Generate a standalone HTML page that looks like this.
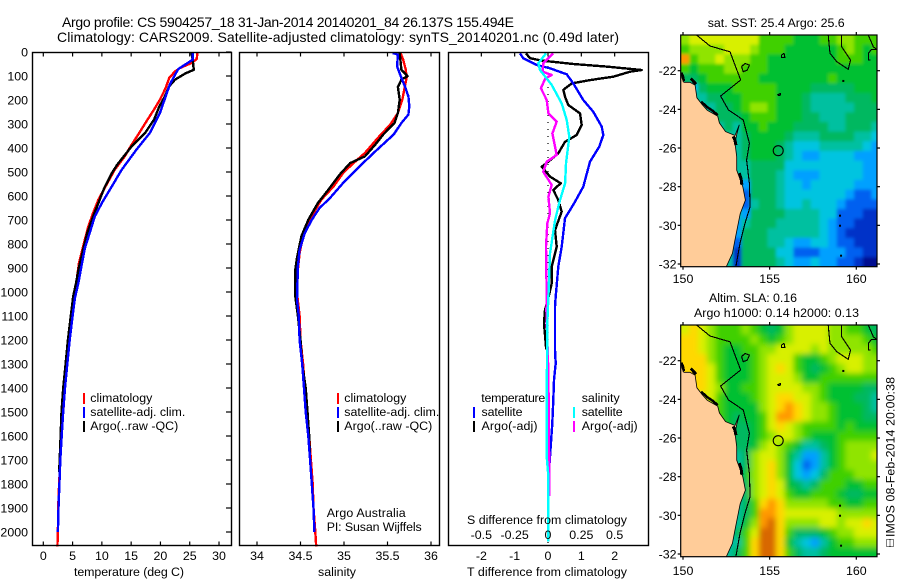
<!DOCTYPE html>
<html lang="en">
<head>
<meta charset="utf-8">
<title>Argo profile chart</title>
<style>
html,body{margin:0;padding:0;background:#fff;}
svg{display:block;font-family:"Liberation Sans",sans-serif;font-size:12.4px;fill:#000;}
text{fill:#000;}
.t14{font-size:14px;}
</style>
</head>
<body>
<svg id="chart" xmlns="http://www.w3.org/2000/svg" width="900" height="580" viewBox="0 0 900 580">
<defs>
<clipPath id="clip-map1"><rect x="680.7" y="35" width="196.3" height="231.7"/></clipPath>
<clipPath id="clip-map2"><rect x="680.7" y="325" width="196.3" height="231.7"/></clipPath>
<filter id="sla-blur" x="-5%" y="-5%" width="110%" height="110%"><feGaussianBlur stdDeviation="3"/></filter>
<filter id="sst-blur" x="-5%" y="-5%" width="110%" height="110%"><feGaussianBlur stdDeviation="1.6"/></filter>
</defs>
<rect x="0" y="0" width="900" height="580" fill="#fff"/>

<text class="t14" x="62" y="27" textLength="452">Argo profile: CS 5904257_18 31-Jan-2014 20140201_84 26.137S 155.494E</text>
<text class="t14" x="57" y="42" textLength="562">Climatology: CARS2009. Satellite-adjusted climatology: synTS_20140201.nc (0.49d later)</text>

<g id="panel-temp"></g>
<g id="panel-sal"></g>
<g id="panel-diff"></g>

<rect x="32.5" y="52.5" width="199" height="493" fill="none" stroke="#000" stroke-width="1.4"/>
<rect x="239.5" y="52.5" width="200" height="493" fill="none" stroke="#000" stroke-width="1.4"/>
<rect x="448.5" y="52.5" width="200" height="493" fill="none" stroke="#000" stroke-width="1.4"/>

<text x="129" y="576" text-anchor="middle" textLength="110">temperature (deg C)</text>
<text x="337" y="576" text-anchor="middle" textLength="38">salinity</text>
<text x="467" y="576" textLength="160">T difference from climatology</text>
<text x="467" y="524" textLength="160">S difference from climatology</text>

<g>
<rect x="83" y="393" width="2" height="11" fill="#f00"/>
<rect x="83" y="407" width="2" height="11" fill="#00f"/>
<rect x="83" y="421" width="2" height="11" fill="#000"/>
<text x="90.3" y="402" textLength="62">climatology</text>
<text x="90.3" y="416" textLength="95">satellite-adj. clim.</text>
<text x="90.3" y="430" textLength="88">Argo(..raw -QC)</text>
</g>
<g>
<rect x="337" y="393" width="2" height="11" fill="#f00"/>
<rect x="337" y="407" width="2" height="11" fill="#00f"/>
<rect x="337" y="421" width="2" height="11" fill="#000"/>
<text x="344.3" y="402" textLength="62">climatology</text>
<text x="344.3" y="416" textLength="95">satellite-adj. clim.</text>
<text x="344.3" y="430" textLength="88">Argo(..raw -QC)</text>
</g>
<text x="326.7" y="517" textLength="79">Argo Australia</text>
<text x="326.7" y="531" textLength="95">PI: Susan Wijffels</text>

<g>
<text x="481.3" y="402" textLength="64">temperature</text>
<text x="481.5" y="416" textLength="41">satellite</text>
<text x="481.5" y="430" textLength="56">Argo(-adj)</text>
<rect x="473" y="407" width="2" height="11" fill="#00f"/>
<rect x="473" y="421" width="2" height="11" fill="#000"/>
<text x="581.7" y="402" textLength="38">salinity</text>
<text x="581.7" y="416" textLength="41">satellite</text>
<text x="581.7" y="430" textLength="56">Argo(-adj)</text>
<rect x="573" y="407" width="2" height="11" fill="#0ff"/>
<rect x="573" y="421" width="2" height="11" fill="#f0f"/>
</g>

<g id="map-sst"></g>
<g id="map-sla"></g>

<text x="707.7" y="27" textLength="137">sat. SST: 25.4 Argo: 25.6</text>
<text x="709" y="302" textLength="88">Altim. SLA: 0.16</text>
<text x="694" y="317" textLength="165">Argo h1000: 0.14 h2000: 0.13</text>

<g fill="none" stroke="#000" stroke-width="1" stroke-dasharray="1 1">
<rect x="886.5" y="539.5" width="7" height="7"/>
<line x1="890" y1="539.5" x2="890" y2="546.5"/>
</g>
<text transform="translate(894.5,537) rotate(-90)" textLength="160">IMOS 08-Feb-2014 20:00:38</text>

<script>
// ---- profile axis ticks ----
const depthTicks = [0,100,200,300,400,500,600,700,800,900,1000,1100,1200,1300,1400,1500,1600,1700,1800,1900,2000];
const tempTicks = [0,5,10,15,20,25,30];
const salTicks = [34,34.5,35,35.5,36];
const salTickLabels = ['34','34.5','35','35.5','36'];
const diffTTicks = [-2,-1,0,1,2];
const diffSTicks = [-0.5,-0.25,0,0.25,0.5];
const diffSTickLabels = ['-0.5','-0.25','0','0.25','0.5'];

// ---- temperature profiles (depth m, deg C) ----
const climTempDepth = [4,29,46,67,81,108,150,199,240,289,344,386,435,490,539,615,671,726,810,879,949,1018,1100,1200,1300,1400,1500,1600,1700,1800,1900,2000,2060];
const climTempValue = [26.3,26.2,25.3,23.3,22.5,21.5,20.9,19.9,18.9,17.6,16.2,15.1,13.9,12.2,11.1,9.4,8.5,7.7,6.8,6.1,5.7,5.2,4.9,4.4,4.0,3.7,3.4,3.1,2.9,2.7,2.55,2.5,2.4];
const satTempDepth = [4,32,53,71,94,136,185,254,337,407,490,560,629,685,747,817,893,962,1025,1100,1200,1300,1400,1500,1600,1700,1800,1900,2000];
const satTempValue = [25.5,25.5,24.2,23.05,22.5,21.6,20.9,19.9,18.2,15.9,13.4,11.7,10,8.8,8,7.1,6.5,6,5.4,5,4.5,4.1,3.7,3.4,3.15,2.9,2.75,2.6,2.5];
const argoTempDepth = [4,32,74,90,115,143,192,227,282,337,393,470,505,567,629,685,754,824,907,962,1018,1100,1200,1300,1400,1500,1600,1700,1750];
const argoTempValue = [25.3,25.5,25.7,24.2,22.5,21.5,20.6,19.8,18.9,17.4,15.1,12.6,11.7,10.4,9.4,8.5,7.5,6.8,6,5.6,5.1,4.7,4.2,3.8,3.4,3.1,2.95,2.8,2.7];

// ---- salinity profiles (depth m, psu) ----
const climSalDepth = [4,32,74,108,143,199,254,303,358,421,469,504,560,615,671,713,768,837,907,1004,1100,1200,1300,1400,1500,1600,1700,1800,1900,2000,2060];
const climSalValue = [35.65,35.68,35.71,35.72,35.70,35.67,35.62,35.53,35.39,35.24,35.09,34.99,34.88,34.74,34.65,34.59,34.53,34.49,34.47,34.46,34.49,34.50,34.53,34.55,34.57,34.60,34.62,34.64,34.65,34.67,34.68];
const satSalDepth = [4,11,60,108,143,185,226,261,296,344,407,476,546,608,650,699,754,824,893,1032,1100,1200,1300,1400,1500,1600,1700,1800,1900,2000];
const satSalValue = [35.56,35.62,35.61,35.66,35.70,35.74,35.75,35.74,35.66,35.57,35.38,35.18,34.99,34.84,34.72,34.63,34.55,34.49,34.47,34.46,34.48,34.49,34.52,34.54,34.56,34.59,34.61,34.63,34.65,34.66];
const argoSalDepth = [4,74,101,115,146,199,254,296,344,386,435,463,511,574,629,699,768,858,907,1018,1100,1200,1300,1400,1500,1600,1700];
const argoSalValue = [35.64,35.66,35.73,35.66,35.62,35.64,35.62,35.58,35.45,35.36,35.24,35.07,34.95,34.82,34.70,34.59,34.51,34.46,34.44,34.44,34.47,34.50,34.52,34.56,34.58,34.60,34.61];

// ---- differences from climatology ----
const satDiffTDepth = [6,26,54,68,93,131,200,249,311,346,394,457,561,624,693,811,894,1019,1061,1242,1297,1367,1450,1547,1644,1728,1825,2000];
const satDiffTValue = [-0.84,-0.74,-0.34,0.06,0.56,0.76,1.06,1.36,1.61,1.66,1.54,1.26,1.06,0.81,0.51,0.41,0.31,0.23,0.21,0.21,0.23,0.18,0.16,0.13,0.08,0.04,0.01,0];
const argoDiffTDepth = [6,26,36,50,61,75,82,103,117,131,158,186,221,256,304,346,374,422,457,478,519,547,575,617,665,742,811,894,964,1026,1075,1131,1228,1240];
const argoDiffTValue = [-0.66,-0.54,-0.19,0.76,1.76,2.81,2.46,1.96,1.26,0.71,0.46,0.51,0.61,0.96,1.01,0.86,0.51,0.31,0.01,-0.19,0.06,0.38,0.16,0.31,0.41,0.21,0.26,0.11,0.11,0.01,-0.09,-0.12,-0.06,-0.06];
const satDiffSDepth = [6,47,75,137,214,283,353,464,547,617,700,839,1019,1131,1464,1686,1769,2040];
const satDiffSValue = [-0.015,-0.073,-0.06,0.028,0.103,0.14,0.16,0.135,0.128,0.09,0.053,0.015,0.003,-0.005,-0.01,-0.01,0.003,0.003];
const argoDiffSDepth = [6,47,82,96,110,151,200,256,290,339,429,457,499,554,603,672,714,811,1019,1075,1340,1686,1850];
const argoDiffSValue = [0.04,-0.035,-0.04,0.028,-0.02,-0.053,-0.01,0.003,0.065,0.033,0.065,-0.01,-0.035,0.028,0.003,0.015,-0.005,-0.015,-0.01,-0.012,0.003,0.008,0.008];

// ---- map axes ----
const lonTicks = [150,155,160];
const latTicks = [22,24,26,28,30,32];
const gridStartLon = 149.87;
const gridStartLat = 20.15;
const gridStepDeg = 0.5;
const colorLevels = ['#000c90','#0030c8','#0060f0','#00a0ff','#00c4e0','#00c0a0','#00b860','#00c030','#40d000','#90e400','#d8f000','#ffd800','#ff9800','#d86800'];

// ---- SST colour levels (rows north to south) ----
const sstLevels = [
[9,10,10,10,10,10,10,10,10,8,8,8,8,7,7,7,8,8,9,9,8,8,8],
[8,9,9,9,9,10,10,10,9,8,8,8,7,7,7,7,7,7,8,9,8,7,8],
[12,8,9,9,10,9,9,9,8,8,7,7,7,7,7,7,7,7,8,8,8,7,7],
[8,7,8,8,8,9,9,8,8,8,7,7,7,7,7,7,7,7,7,7,7,7,7],
[6,6,7,8,8,8,8,8,8,7,7,7,7,7,7,7,7,8,7,7,7,7,7],
[5,4,6,7,7,7,8,8,8,8,8,7,7,7,7,6,6,6,6,6,7,7,7],
[5,5,5,6,6,7,7,8,8,8,8,7,7,7,6,5,5,5,5,6,6,6,7],
[5,5,5,5,6,6,7,8,9,9,8,7,7,7,6,5,5,5,5,5,6,6,6],
[5,5,5,5,6,6,6,7,8,8,8,7,7,7,6,6,5,5,5,6,6,6,6],
[5,5,5,5,5,6,5,7,7,8,7,7,7,6,6,6,6,5,5,6,6,6,5],
[5,5,5,5,5,5,5,6,7,7,7,7,6,5,5,5,6,6,6,6,5,5,4],
[5,5,5,5,5,5,5,6,7,7,7,6,5,4,4,4,5,5,5,5,5,4,3],
[5,5,5,5,5,5,5,6,7,7,7,6,5,4,3,3,4,4,4,4,3,3,3],
[5,5,5,5,5,5,5,5,6,6,6,6,4,4,4,4,4,4,4,4,4,3,3],
[5,5,5,5,5,5,5,5,6,6,6,5,4,3,3,3,4,4,4,4,4,3,3],
[5,5,5,5,5,5,5,3,6,6,6,5,4,4,3,4,4,4,4,4,3,3,3],
[5,5,5,5,5,5,5,2,6,6,6,5,4,4,4,4,4,4,4,3,2,2,3],
[5,5,5,5,5,5,5,2,5,6,6,5,4,4,5,4,4,4,3,2,2,2,2],
[5,5,5,5,5,5,5,3,6,6,6,6,5,5,5,5,4,4,2,2,2,1,1],
[5,5,5,5,5,5,3,5,6,6,6,5,5,5,5,5,4,3,2,2,1,1,1],
[5,5,5,5,5,5,3,6,6,6,5,5,5,5,5,5,4,3,2,1,1,1,1],
[5,5,5,5,5,5,2,6,6,6,5,5,4,3,3,4,4,3,2,2,1,1,1],
[5,5,5,5,5,5,1,6,6,6,6,4,4,2,2,2,3,3,3,2,2,1,1],
[5,5,5,5,5,5,1,6,6,6,6,5,4,3,3,4,3,3,2,2,1,0,0]
];

// ---- SLA colour levels (rows north to south) ----
const slaLevels = [
[10,11,10,9,8,8,8,9,8,7,6,7,9,10,10,10,10,9,9,8,8,7,6],
[11,11,10,9,8,8,8,8,9,8,7,8,9,10,10,10,10,9,9,9,9,8,7],
[11,11,10,9,8,7,7,8,8,9,9,10,10,10,10,9,10,9,9,9,9,9,8],
[11,11,11,9,8,7,7,7,8,9,10,10,10,8,7,7,8,9,10,10,10,9,9],
[11,11,11,10,8,7,7,7,8,9,10,11,10,8,7,6,7,8,9,10,10,9,9],
[11,11,11,10,8,7,7,7,8,9,10,10,10,9,7,7,8,8,8,8,8,8,8],
[11,11,11,10,9,7,7,8,8,9,10,10,10,10,9,9,8,7,7,7,7,6,6],
[11,11,10,10,8,7,7,7,8,9,10,11,11,10,10,9,8,7,7,7,6,6,5],
[10,10,10,9,8,7,7,7,7,9,10,11,12,11,10,9,9,8,7,7,7,6,5],
[9,9,9,9,8,7,6,7,7,8,10,12,12,11,10,9,9,8,7,7,7,6,6],
[9,9,9,9,8,7,6,6,7,8,10,11,10,9,8,8,8,8,7,8,7,7,7],
[9,9,9,9,8,7,6,6,7,8,9,10,10,9,8,7,7,7,8,8,8,8,8],
[9,9,9,9,8,7,6,6,7,9,10,9,8,7,5,5,6,7,8,9,9,9,9],
[9,9,9,9,8,7,5,6,9,10,10,9,7,5,3,3,5,7,8,9,9,9,10],
[9,9,9,9,8,7,5,6,9,10,11,9,7,4,2,3,5,7,8,9,9,9,9],
[9,9,9,9,8,7,5,7,9,10,11,9,7,4,3,4,6,8,8,8,9,9,9],
[9,9,9,9,8,7,5,6,9,10,11,10,7,6,5,6,8,8,8,7,7,8,8],
[9,9,9,9,8,7,5,6,9,10,11,10,8,7,7,8,8,8,7,6,6,7,7],
[9,9,9,9,8,7,5,6,8,11,12,11,9,9,9,9,9,8,8,7,7,8,8],
[9,9,9,9,8,7,5,6,8,12,12,11,10,10,10,10,10,10,9,9,9,9,9],
[9,9,9,9,8,7,5,7,9,12,13,11,9,9,9,9,10,10,9,10,10,11,10],
[9,9,9,9,8,5,6,8,10,13,13,11,8,6,6,6,7,8,9,9,10,10,10],
[9,9,9,9,8,5,5,8,11,13,13,11,7,5,4,3,5,7,8,8,9,9,9],
[9,9,9,9,8,5,6,8,11,13,13,11,8,6,5,5,6,7,7,7,7,7,7]
];

// ---- geography (lon E, lat S) ----
const coastLon = [149.87,149.95,150.05,150.4,150.7,150.8,151.1,151.4,152.0,152.1,152.45,153.0,153.25,153.1,153.0,153.1,153.1,153.45,153.6,153.3,153.0,152.85,152.5];
const coastLat = [22.1,22.4,22.6,22.6,22.75,23.4,23.75,24.05,24.35,24.7,25.15,25.35,24.8,25.3,25.75,26.45,27.15,28,28.7,29.4,30.75,31.45,32.14];
const contourLon = [150.79,151.56,152.71,153.0,153.33,152.17,152.62,153.48,153.83,153.67,153.83,153.87,153.58,153.29,153.06];
const contourLat = [20.16,20.72,21.02,21.71,22.48,23.31,24.03,24.55,25.76,26.62,27.83,29.03,29.9,30.93,32.1];
const contourNELon = [158.38,158.48,158.87,159.54,159.67,159.15,159.15];
const contourNELat = [20.16,21.1,21.53,21.93,21.45,20.76,20.16];
const contourELon = [160.69,160.98,161.17,160.88,160.69,160.69,160.82];
const contourELat = [20.16,20.76,20.9,20.9,21.1,21.45,21.45];
const loopALon = [153.38,153.58,153.83,153.71,153.48,153.38];
const loopALat = [21.79,21.62,21.71,21.97,22.05,21.79];
const loopBLon = [155.69,155.83,155.88,155.69,155.69];
const loopBLat = [21.19,21.1,21.31,21.33,21.19];
const loopCLon = [155.44,155.63,155.6,155.44];
const loopCLat = [23.26,23.17,23.29,23.26];
const reefALon = [149.9,150.0,150.05];
const reefALat = [22.1,22.3,22.55];
const reefBLon = [150.45,150.6,150.75];
const reefBLat = [22.4,22.55,22.7];
const reefCLon = [151.05,151.35,151.75,152.0];
const reefCLat = [23.6,23.85,24.1,24.3];
const reefDLon = [152.9,153.0,153.05];
const reefDLat = [25.4,25.6,25.85];
const reefELon = [153.25,153.35,153.4];
const reefELat = [27.3,27.6,27.9];
const dotLon = [159.25,159.06,159.06,159.12];
const dotLat = [22.53,29.5,30.02,31.57];
const argoLon = 155.494;
const argoLat = 26.137;

// ---- axis functions ----
const NS = 'http://www.w3.org/2000/svg';
const yDepth = d => 52 + d * 0.24;
const xTemp = t => 43.3 + t * 5.857;
const xSal = s => 257 + (s - 34) * 87;
const xDiffT = t => 548 + t * 33.33;
const xDiffS = s => xDiffT(s * 4);
const xLon = lon => 683 + (lon - 150) * 17.33;
const yLat = (lat, off) => 70.7 + off + (lat - 22) * 19.33;

function addLine(parent, x1, y1, x2, y2, name) {
  const el = document.createElementNS(NS, 'line');
  
  
  el.setAttribute('x1', x1);
  el.setAttribute('y1', y1);
  el.setAttribute('x2', x2);
  el.setAttribute('y2', y2);
  el.setAttribute('stroke', '#000');
  el.setAttribute('stroke-width', '1.2');
  parent.appendChild(el);
  return el;
}
function addText(parent, x, y, str, anchor, name) {
  const el = document.createElementNS(NS, 'text');
  
  
  el.setAttribute('x', x);
  el.setAttribute('y', y);
  el.setAttribute('text-anchor', anchor);
  el.textContent = str;
  parent.appendChild(el);
  return el;
}
function addProfile(parent, xs, ys, color, width, name) {
  const el = document.createElementNS(NS, 'polyline');
  
  
  el.setAttribute('points', xs.map((x, i) => x.toFixed(1) + ',' + ys[i].toFixed(1)).join(' '));
  el.setAttribute('fill', 'none');
  el.setAttribute('stroke', color);
  el.setAttribute('stroke-width', width);
  el.setAttribute('stroke-linejoin', 'round');
  el.setAttribute('shape-rendering', 'crispEdges');
  parent.appendChild(el);
  return el;
}

// ---- temperature panel ----
const gT = document.getElementById('panel-temp');
addProfile(gT, climTempValue.map(xTemp), climTempDepth.map(yDepth), '#f00', 2.4, 'climatology-temperature-line');
addProfile(gT, argoTempValue.map(xTemp), argoTempDepth.map(yDepth), '#000', 2.4, 'argo-temperature-line');
addProfile(gT, satTempValue.map(xTemp), satTempDepth.map(yDepth), '#00f', 2.4, 'satellite-temperature-line');
depthTicks.forEach(d => {
  addLine(gT, 226, yDepth(d), 231.5, yDepth(d), 'depth-tick');
  addText(gT, 28, yDepth(d) + 4.5, String(d), 'end', 'depth-tick-label');
});
tempTicks.forEach(t => {
  addLine(gT, xTemp(t), 52.5, xTemp(t), 56.5, 'temperature-tick-top');
  addLine(gT, xTemp(t), 541.5, xTemp(t), 545.5, 'temperature-tick-bottom');
  addText(gT, xTemp(t), 560, String(t), 'middle', 'temperature-tick-label');
});

// ---- salinity panel ----
const gS = document.getElementById('panel-sal');
addProfile(gS, climSalValue.map(xSal), climSalDepth.map(yDepth), '#f00', 2.4, 'climatology-salinity-line');
addProfile(gS, argoSalValue.map(xSal), argoSalDepth.map(yDepth), '#000', 2.4, 'argo-salinity-line');
addProfile(gS, satSalValue.map(xSal), satSalDepth.map(yDepth), '#00f', 2.4, 'satellite-salinity-line');
salTicks.forEach((s, i) => {
  addLine(gS, xSal(s), 52.5, xSal(s), 56.5, 'salinity-tick-top');
  addLine(gS, xSal(s), 541.5, xSal(s), 545.5, 'salinity-tick-bottom');
  addText(gS, xSal(s), 560, salTickLabels[i], 'middle', 'salinity-tick-label');
});

// ---- difference panel ----
const gD = document.getElementById('panel-diff');
const zeroLine = addLine(gD, xDiffT(0), yDepth(0), xDiffT(0), yDepth(2060), 'zero-difference-line');
zeroLine.setAttribute('stroke-dasharray', '1 6');
addProfile(gD, argoDiffTValue.map(xDiffT), argoDiffTDepth.map(yDepth), '#000', 2.4, 'argo-t-difference-line');
addProfile(gD, satDiffTValue.map(xDiffT), satDiffTDepth.map(yDepth), '#00f', 2.4, 'satellite-t-difference-line');
addProfile(gD, argoDiffSValue.map(xDiffS), argoDiffSDepth.map(yDepth), '#f0f', 2.4, 'argo-s-difference-line');
addProfile(gD, satDiffSValue.map(xDiffS), satDiffSDepth.map(yDepth), '#0ff', 2.4, 'satellite-s-difference-line');
diffTTicks.forEach(t => {
  addLine(gD, xDiffT(t), 52.5, xDiffT(t), 56.5, 't-difference-tick-top');
  addText(gD, xDiffT(t), 560, String(t), 'middle', 't-difference-tick-label');
});
diffSTicks.forEach((s, i) => {
  addText(gD, xDiffS(s), 539, diffSTickLabels[i], 'middle', 's-difference-tick-label');
});

// ---- maps ----
function drawMap(groupId, levels, off, clipId, filterId, prefix) {
  const root = document.getElementById(groupId);
  const clip = document.createElementNS(NS, 'g');
  
  
  clip.setAttribute('clip-path', 'url(#' + clipId + ')');
  root.appendChild(clip);
  const heat = document.createElementNS(NS, 'g');
  
  
  heat.setAttribute('filter', 'url(#' + filterId + ')');
  clip.appendChild(heat);
  const nr = levels.length, nc = levels[0].length;
  for (let r = -2; r < nr + 2; r++) {
    for (let c = -2; c < nc + 2; c++) {
      const rr = Math.min(nr - 1, Math.max(0, r));
      const cc = Math.min(nc - 1, Math.max(0, c));
      const cell = document.createElementNS(NS, 'rect');
      
      
      const x0 = xLon(gridStartLon + c * gridStepDeg);
      const x1 = xLon(gridStartLon + (c + 1) * gridStepDeg);
      const y0 = yLat(gridStartLat + r * gridStepDeg, off);
      const y1 = yLat(gridStartLat + (r + 1) * gridStepDeg, off);
      cell.setAttribute('x', x0.toFixed(2));
      cell.setAttribute('y', y0.toFixed(2));
      cell.setAttribute('width', (x1 - x0 + 0.4).toFixed(2));
      cell.setAttribute('height', (y1 - y0 + 0.4).toFixed(2));
      cell.setAttribute('fill', colorLevels[levels[rr][cc]]);
      heat.appendChild(cell);
    }
  }
  const landPts = coastLon.map((lon, i) => xLon(lon).toFixed(1) + ',' + yLat(coastLat[i], off).toFixed(1));
  landPts.push(xLon(coastLon[coastLon.length - 1]).toFixed(1) + ',' + (yLat(32.5, off)).toFixed(1));
  landPts.push(xLon(149.5).toFixed(1) + ',' + (yLat(32.5, off)).toFixed(1));
  landPts.push(xLon(149.5).toFixed(1) + ',' + yLat(coastLat[0], off).toFixed(1));
  const land = document.createElementNS(NS, 'polygon');
  
  
  land.setAttribute('points', landPts.join(' '));
  land.setAttribute('fill', '#ffcc99');
  land.setAttribute('stroke', '#000');
  land.setAttribute('stroke-width', '0.8');
  clip.appendChild(land);
  const geoLine = (lons, lats, w, name) => addProfile(clip, lons.map(xLon), lats.map(l => yLat(l, off)), '#000', w, prefix + '-' + name);
  geoLine(contourLon, contourLat, 1.1, 'bathymetry-contour');
  geoLine(contourNELon, contourNELat, 1.1, 'bathymetry-contour-northeast');
  geoLine(contourELon, contourELat, 1.1, 'bathymetry-contour-east');
  geoLine(loopALon, loopALat, 1.1, 'reef-contour-a');
  geoLine(loopBLon, loopBLat, 1.1, 'reef-contour-b');
  geoLine(loopCLon, loopCLat, 1.1, 'reef-contour-c');
  geoLine(reefALon, reefALat, 2.5, 'coast-islands-a');
  geoLine(reefBLon, reefBLat, 3, 'coast-islands-b');
  geoLine(reefCLon, reefCLat, 2.5, 'coast-islands-c');
  geoLine(reefDLon, reefDLat, 3, 'coast-islands-d');
  geoLine(reefELon, reefELat, 3, 'coast-islands-e');
  dotLon.forEach((lon, i) => {
    const dot = document.createElementNS(NS, 'rect');
    
    
    dot.setAttribute('x', xLon(lon) - 1);
    dot.setAttribute('y', yLat(dotLat[i], off) - 1);
    dot.setAttribute('width', '2');
    dot.setAttribute('height', '2');
    dot.setAttribute('fill', '#000');
    clip.appendChild(dot);
  });
  const marker = document.createElementNS(NS, 'circle');
  
  
  marker.setAttribute('cx', xLon(argoLon));
  marker.setAttribute('cy', yLat(argoLat, off));
  marker.setAttribute('r', '5');
  marker.setAttribute('fill', 'none');
  marker.setAttribute('stroke', '#000');
  marker.setAttribute('stroke-width', '1.1');
  clip.appendChild(marker);
  const frame = document.createElementNS(NS, 'rect');
  
  
  frame.setAttribute('x', '680.7');
  frame.setAttribute('y', 35 + off);
  frame.setAttribute('width', '196.3');
  frame.setAttribute('height', '231.7');
  frame.setAttribute('fill', 'none');
  frame.setAttribute('stroke', '#000');
  frame.setAttribute('stroke-width', '1.2');
  root.appendChild(frame);
  lonTicks.forEach(lon => {
    addLine(root, xLon(lon), 35 + off, xLon(lon), 32 + off, prefix + '-lon-tick-top');
    addLine(root, xLon(lon), 266.7 + off, xLon(lon), 269.7 + off, prefix + '-lon-tick-bottom');
    addText(root, xLon(lon), 283 + (off ? off + 2 : 0), String(lon), 'middle', prefix + '-lon-tick-label');
  });
  latTicks.forEach(lat => {
    addLine(root, 680.7, yLat(lat, off), 677.7, yLat(lat, off), prefix + '-lat-tick-left');
    addLine(root, 877, yLat(lat, off), 880, yLat(lat, off), prefix + '-lat-tick-right');
    addText(root, 676.5, yLat(lat, off) + 4.5, '-' + lat, 'end', prefix + '-lat-tick-label');
  });
}
drawMap('map-sst', sstLevels, 0, 'clip-map1', 'sst-blur', 'sst-map');
drawMap('map-sla', slaLevels, 290, 'clip-map2', 'sla-blur', 'sla-map');
</script>
</svg>
</body>
</html>
